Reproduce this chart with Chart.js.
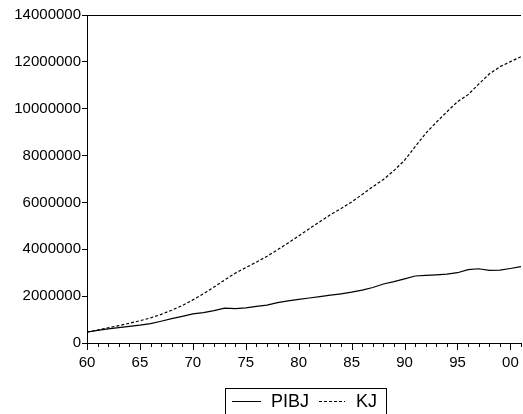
<!DOCTYPE html>
<html><head><meta charset="utf-8">
<script src="https://cdn.jsdelivr.net/npm/chart.js@4.4.1/dist/chart.umd.min.js"></script>
<style>
html,body{margin:0;padding:0;width:523px;height:414px;overflow:hidden;background:#fff;}
#wrap{position:relative;width:523px;height:414px;overflow:hidden;}
canvas{position:absolute;left:0;top:0;}
#legend{position:absolute;left:225px;top:388px;width:162px;height:40px;border:1px solid #000;box-sizing:border-box;font:18px 'Liberation Sans',Arial,sans-serif;color:#000;}
#legend .row{display:flex;align-items:center;height:24px;padding-left:6px;}
#legend svg{display:block;}
</style></head><body>
<div id="wrap"><canvas id="c" width="525" height="414"></canvas><div id="legend"><div class="row" id="lrow"></div></div></div>
<script>
const years = [1960,1961,1962,1963,1964,1965,1966,1967,1968,1969,1970,1971,1972,1973,1974,1975,1976,1977,1978,1979,1980,1981,1982,1983,1984,1985,1986,1987,1988,1989,1990,1991,1992,1993,1994,1995,1996,1997,1998,1999,2000,2001];
const pibj = [470000,540000,600000,660000,710000,760000,830000,930000,1040000,1140000,1240000,1300000,1380000,1490000,1470000,1500000,1560000,1620000,1720000,1800000,1860000,1920000,1980000,2040000,2100000,2170000,2260000,2370000,2520000,2620000,2740000,2860000,2890000,2910000,2940000,3000000,3130000,3170000,3100000,3110000,3180000,3260000];
const kj = [460000,550000,650000,740000,840000,950000,1070000,1220000,1400000,1600000,1840000,2100000,2390000,2690000,2980000,3220000,3450000,3700000,3980000,4270000,4570000,4880000,5180000,5480000,5740000,6020000,6340000,6670000,6980000,7360000,7800000,8380000,8950000,9420000,9870000,10300000,10600000,11050000,11480000,11790000,12010000,12220000];
const seriesNames = ['PIBJ','KJ'];
const yMin = 0, yMax = 14000000, yStep = 2000000;
const majorEvery = 5;

const FONT = "'Liberation Sans', Arial, sans-serif";

const xTickPlugin = {
  id: 'xTicks',
  afterDraw(chart) {
    const xs = chart.scales.x, ctx = chart.ctx;
    const top = chart.chartArea.bottom;
    ctx.save();
    ctx.strokeStyle = '#000';
    ctx.lineWidth = 1;
    years.forEach(y => {
      const px = Math.round(xs.getPixelForValue(y)) + 0.5;
      const len = (y % majorEvery === 0) ? 7 : 4;
      ctx.beginPath();
      ctx.moveTo(px, top);
      ctx.lineTo(px, top + len);
      ctx.stroke();
    });
    ctx.restore();
  }
};

const chart = new Chart(document.getElementById('c'), {
  type: 'line',
  data: {
    datasets: [
      { label: seriesNames[0], data: years.map((y,i)=>({x:y,y:pibj[i]})), borderColor:'#000', borderWidth:1.2, pointRadius:0, tension:0, fill:false },
      { label: seriesNames[1], data: years.map((y,i)=>({x:y,y:kj[i]})), borderColor:'#000', borderWidth:1.2, borderDash:[3,2], pointRadius:0, tension:0, fill:false }
    ]
  },
  options: {
    responsive:false, animation:false,
    layout:{ padding:{ top:15, left:0, right:0, bottom:0 } },
    plugins:{ legend:{display:false}, tooltip:{enabled:false} },
    scales:{
      x:{
        type:'linear', min:years[0], max:years[years.length-1],
        afterFit(s){ s.height = 71; },
        border:{ display:true, color:'#000', width:1 },
        grid:{ display:true, drawOnChartArea:false, drawTicks:true, tickLength:7, tickColor:'rgba(0,0,0,0)' },
        ticks:{ stepSize:1, autoSkip:false, maxRotation:0, padding:4, color:'#000', font:{family:FONT,size:15},
          callback(v){ return (v % majorEvery === 0) ? String(v % 100).padStart(2,'0') : ''; } }
      },
      y:{
        min:yMin, max:yMax,
        afterFit(s){ s.width = 87; },
        border:{ display:true, color:'#000', width:1 },
        grid:{ display:true, drawOnChartArea:true, drawTicks:true, tickLength:5, tickColor:'#000',
          color(c){ return (c.tick && c.tick.value === yMax) ? '#000' : 'rgba(0,0,0,0)'; } },
        ticks:{ stepSize:yStep, padding:1, color:'#000', font:{family:FONT,size:15},
          callback(v){ return String(v); } }
      }
    }
  },
  plugins:[xTickPlugin]
});

// HTML legend from dataset definitions
const row = document.getElementById('lrow');
chart.data.datasets.forEach((ds, i) => {
  const svgNS = 'http://www.w3.org/2000/svg';
  const svg = document.createElementNS(svgNS,'svg');
  const w = i === 0 ? 29 : 26;
  svg.setAttribute('width', w); svg.setAttribute('height', 3);
  svg.style.marginLeft = i === 0 ? '0px' : '10px';
  const ln = document.createElementNS(svgNS,'line');
  ln.setAttribute('x1',0); ln.setAttribute('x2',w); ln.setAttribute('y1',1.5); ln.setAttribute('y2',1.5);
  ln.setAttribute('stroke','#000'); ln.setAttribute('stroke-width','1');
  if (ds.borderDash) ln.setAttribute('stroke-dasharray', ds.borderDash.join(','));
  svg.appendChild(ln);
  row.appendChild(svg);
  const t = document.createElement('span');
  t.textContent = ds.label;
  t.style.marginLeft = i === 0 ? '10px' : '11px';
  row.appendChild(t);
});
</script>
</body></html>
